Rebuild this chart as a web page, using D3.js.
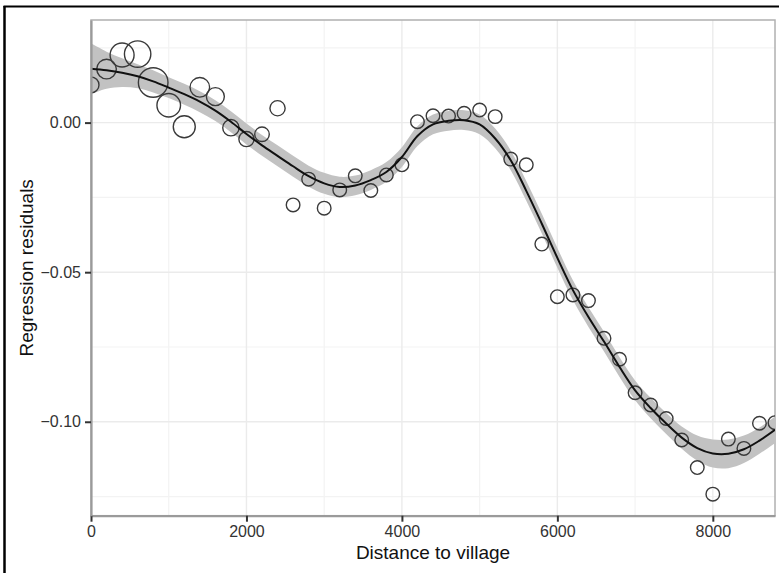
<!DOCTYPE html>
<html><head><meta charset="utf-8">
<script src="https://cdn.jsdelivr.net/npm/d3@7"></script>
<style>body{margin:0;background:#fff} svg{display:block}</style>
</head><body>
<svg id="chart" width="779" height="573"></svg>
<script>
// ---- data ----
const distance = [0,200,400,600,800,1000,1200,1400,1600,1800,2000,2200,2400,2600,2800,3000,3200,3400,3600,3800,4000,4200,4400,4600,4800,5000,5200,5400,5600,5800,6000,6200,6400,6600,6800,7000,7200,7400,7600,7800,8000,8200,8400,8600,8800];
const residual = [0.0126,0.0179,0.0226,0.0229,0.0134,0.0058,-0.0014,0.0118,0.0087,-0.0017,-0.0055,-0.0039,0.0048,-0.0275,-0.0189,-0.0286,-0.0225,-0.0178,-0.0227,-0.0175,-0.0141,0.0003,0.0023,0.0022,0.0031,0.0042,0.0020,-0.0122,-0.0141,-0.0406,-0.0582,-0.0576,-0.0595,-0.0721,-0.0791,-0.0903,-0.0944,-0.0989,-0.1061,-0.1153,-0.1242,-0.1058,-0.1089,-0.1005,-0.1003];
const weight = [1.38,2.08,3.11,3.77,4.74,3.01,2.62,2.08,1.75,1.45,1.25,1.15,1.25,1,1,1,1,1,1,1,1,1,1,1,1,1,1,1,1,1,1,1,1,1,1,1,1,1,1,1,1,1,1,1,1];
const smoothX = distance;
const smoothFit = [0.0180,0.0175,0.0167,0.0155,0.0138,0.0117,0.0095,0.0070,0.0040,0.0003,-0.0038,-0.0076,-0.0111,-0.0146,-0.0179,-0.0203,-0.0215,-0.0210,-0.0192,-0.0165,-0.0115,-0.0045,-0.0006,0.0006,0.0008,-0.0006,-0.0053,-0.0126,-0.0228,-0.0338,-0.0452,-0.0560,-0.0650,-0.0732,-0.0817,-0.0895,-0.0954,-0.1006,-0.1053,-0.1088,-0.1106,-0.1107,-0.1092,-0.1063,-0.1027];
const smoothSE = [0.0085,0.0062,0.0048,0.0040,0.0037,0.0035,0.0035,0.0035,0.0035,0.0035,0.0035,0.0035,0.0035,0.0035,0.0035,0.0035,0.0034,0.0033,0.0033,0.0033,0.0033,0.0033,0.0033,0.0033,0.0033,0.0033,0.0033,0.0033,0.0033,0.0033,0.0033,0.0033,0.0033,0.0033,0.0033,0.0033,0.0034,0.0035,0.0037,0.0042,0.0047,0.0048,0.0046,0.0044,0.0045];
const xTicks = [0,2000,4000,6000,8000];
const xMinor = [1000,3000,5000,7000];
const yTicks = [0,-0.05,-0.10];
const yMinor = [0.025,-0.025,-0.075,-0.125];
const xTitle = "Distance to village";
const yTitle = "Regression residuals";

// ---- layout ----
const svg = d3.select("#chart");
const L = 91, R = 775, T = 20, B = 515.7;
const x = d3.scaleLinear().domain([0, 8800]).range([L, R]);
const y = d3.scaleLinear().domain([-0.1314, 0.0343]).range([B, T]);
const r = d3.scaleSqrt().domain([0, 4.74]).range([0, 14.8]);
const font = "'Liberation Sans', Arial, Helvetica, sans-serif";

// outer frame (left & top)
svg.append("line").attr("x1",4.5).attr("x2",4.5).attr("y1",6).attr("y2",573).attr("stroke","#000").attr("stroke-width",2.5);
svg.append("line").attr("x1",3.5).attr("x2",779).attr("y1",6.5).attr("y2",6.5).attr("stroke","#000").attr("stroke-width",2.2);

svg.append("defs").append("clipPath").attr("id","clip")
  .append("rect").attr("x",L).attr("y",T).attr("width",R-L).attr("height",B-T);

// grid
const grid = svg.append("g");
grid.selectAll(".xm").data(xMinor).join("line")
  .attr("x1",d=>x(d)).attr("x2",d=>x(d)).attr("y1",T).attr("y2",B)
  .attr("stroke","#f3f3f3").attr("stroke-width",1.2);
grid.selectAll(".ym").data(yMinor.filter(d=>y(d)>T && y(d)<B)).join("line")
  .attr("y1",d=>y(d)).attr("y2",d=>y(d)).attr("x1",L).attr("x2",R)
  .attr("stroke","#f3f3f3").attr("stroke-width",1.2);
grid.selectAll(".xM").data(xTicks).join("line")
  .attr("x1",d=>x(d)).attr("x2",d=>x(d)).attr("y1",T).attr("y2",B)
  .attr("stroke","#ebebeb").attr("stroke-width",1.4);
grid.selectAll(".yM").data(yTicks).join("line")
  .attr("y1",d=>y(d)).attr("y2",d=>y(d)).attr("x1",L).attr("x2",R)
  .attr("stroke","#ebebeb").attr("stroke-width",1.4);

// panel border
svg.append("rect").attr("x",L).attr("y",T).attr("width",R-L).attr("height",B-T)
  .attr("fill","none").attr("stroke","#b0b0b0").attr("stroke-width",1.5);

const plot = svg.append("g").attr("clip-path","url(#clip)");
const smooth = smoothX.map((d,i)=>({x:d, fit:smoothFit[i], se:smoothSE[i]}));

plot.append("path").datum(smooth)
  .attr("d", d3.area().curve(d3.curveCatmullRom.alpha(0.5))
    .x(d=>x(d.x)).y0(d=>y(d.fit-d.se)).y1(d=>y(d.fit+d.se)))
  .attr("fill","#c2c2c2");

const pts = distance.map((d,i)=>({x:d, y:residual[i], w:weight[i]}));
plot.selectAll("circle").data(pts).join("circle")
  .attr("cx",d=>x(d.x)).attr("cy",d=>y(d.y)).attr("r",d=>r(d.w))
  .attr("fill","none").attr("stroke","#3a3a3a").attr("stroke-width",1.4);

plot.append("path").datum(smooth)
  .attr("d", d3.line().curve(d3.curveCatmullRom.alpha(0.5)).x(d=>x(d.x)).y(d=>y(d.fit)))
  .attr("fill","none").attr("stroke","#111").attr("stroke-width",2);

// axes
const fmtY = d3.format(".2f");
const ax = svg.append("g").attr("transform",`translate(0,${B})`)
  .call(d3.axisBottom(x).tickValues(xTicks).tickFormat(d3.format("d")).tickSize(6).tickSizeOuter(0).tickPadding(4));
const ay = svg.append("g").attr("transform",`translate(${L},0)`)
  .call(d3.axisLeft(y).tickValues(yTicks).tickFormat(fmtY).tickSize(6).tickSizeOuter(0).tickPadding(4));
[ax, ay].forEach(g=>{
  g.select(".domain").attr("stroke","#9a9a9a").attr("stroke-width",2.2);
  g.selectAll(".tick line").attr("stroke","#333").attr("stroke-width",2);
  g.selectAll(".tick text").attr("font-family",font).attr("font-size",16).attr("fill","#333");
});

svg.append("text").attr("x",(L+R)/2).attr("y",559).attr("text-anchor","middle")
  .attr("font-family",font).attr("font-size",19).attr("fill","#111").text(xTitle);
svg.append("text").attr("transform",`translate(33,${(T+B)/2}) rotate(-90)`).attr("text-anchor","middle")
  .attr("font-family",font).attr("font-size",19).attr("fill","#111").text(yTitle);
</script>
</body></html>
